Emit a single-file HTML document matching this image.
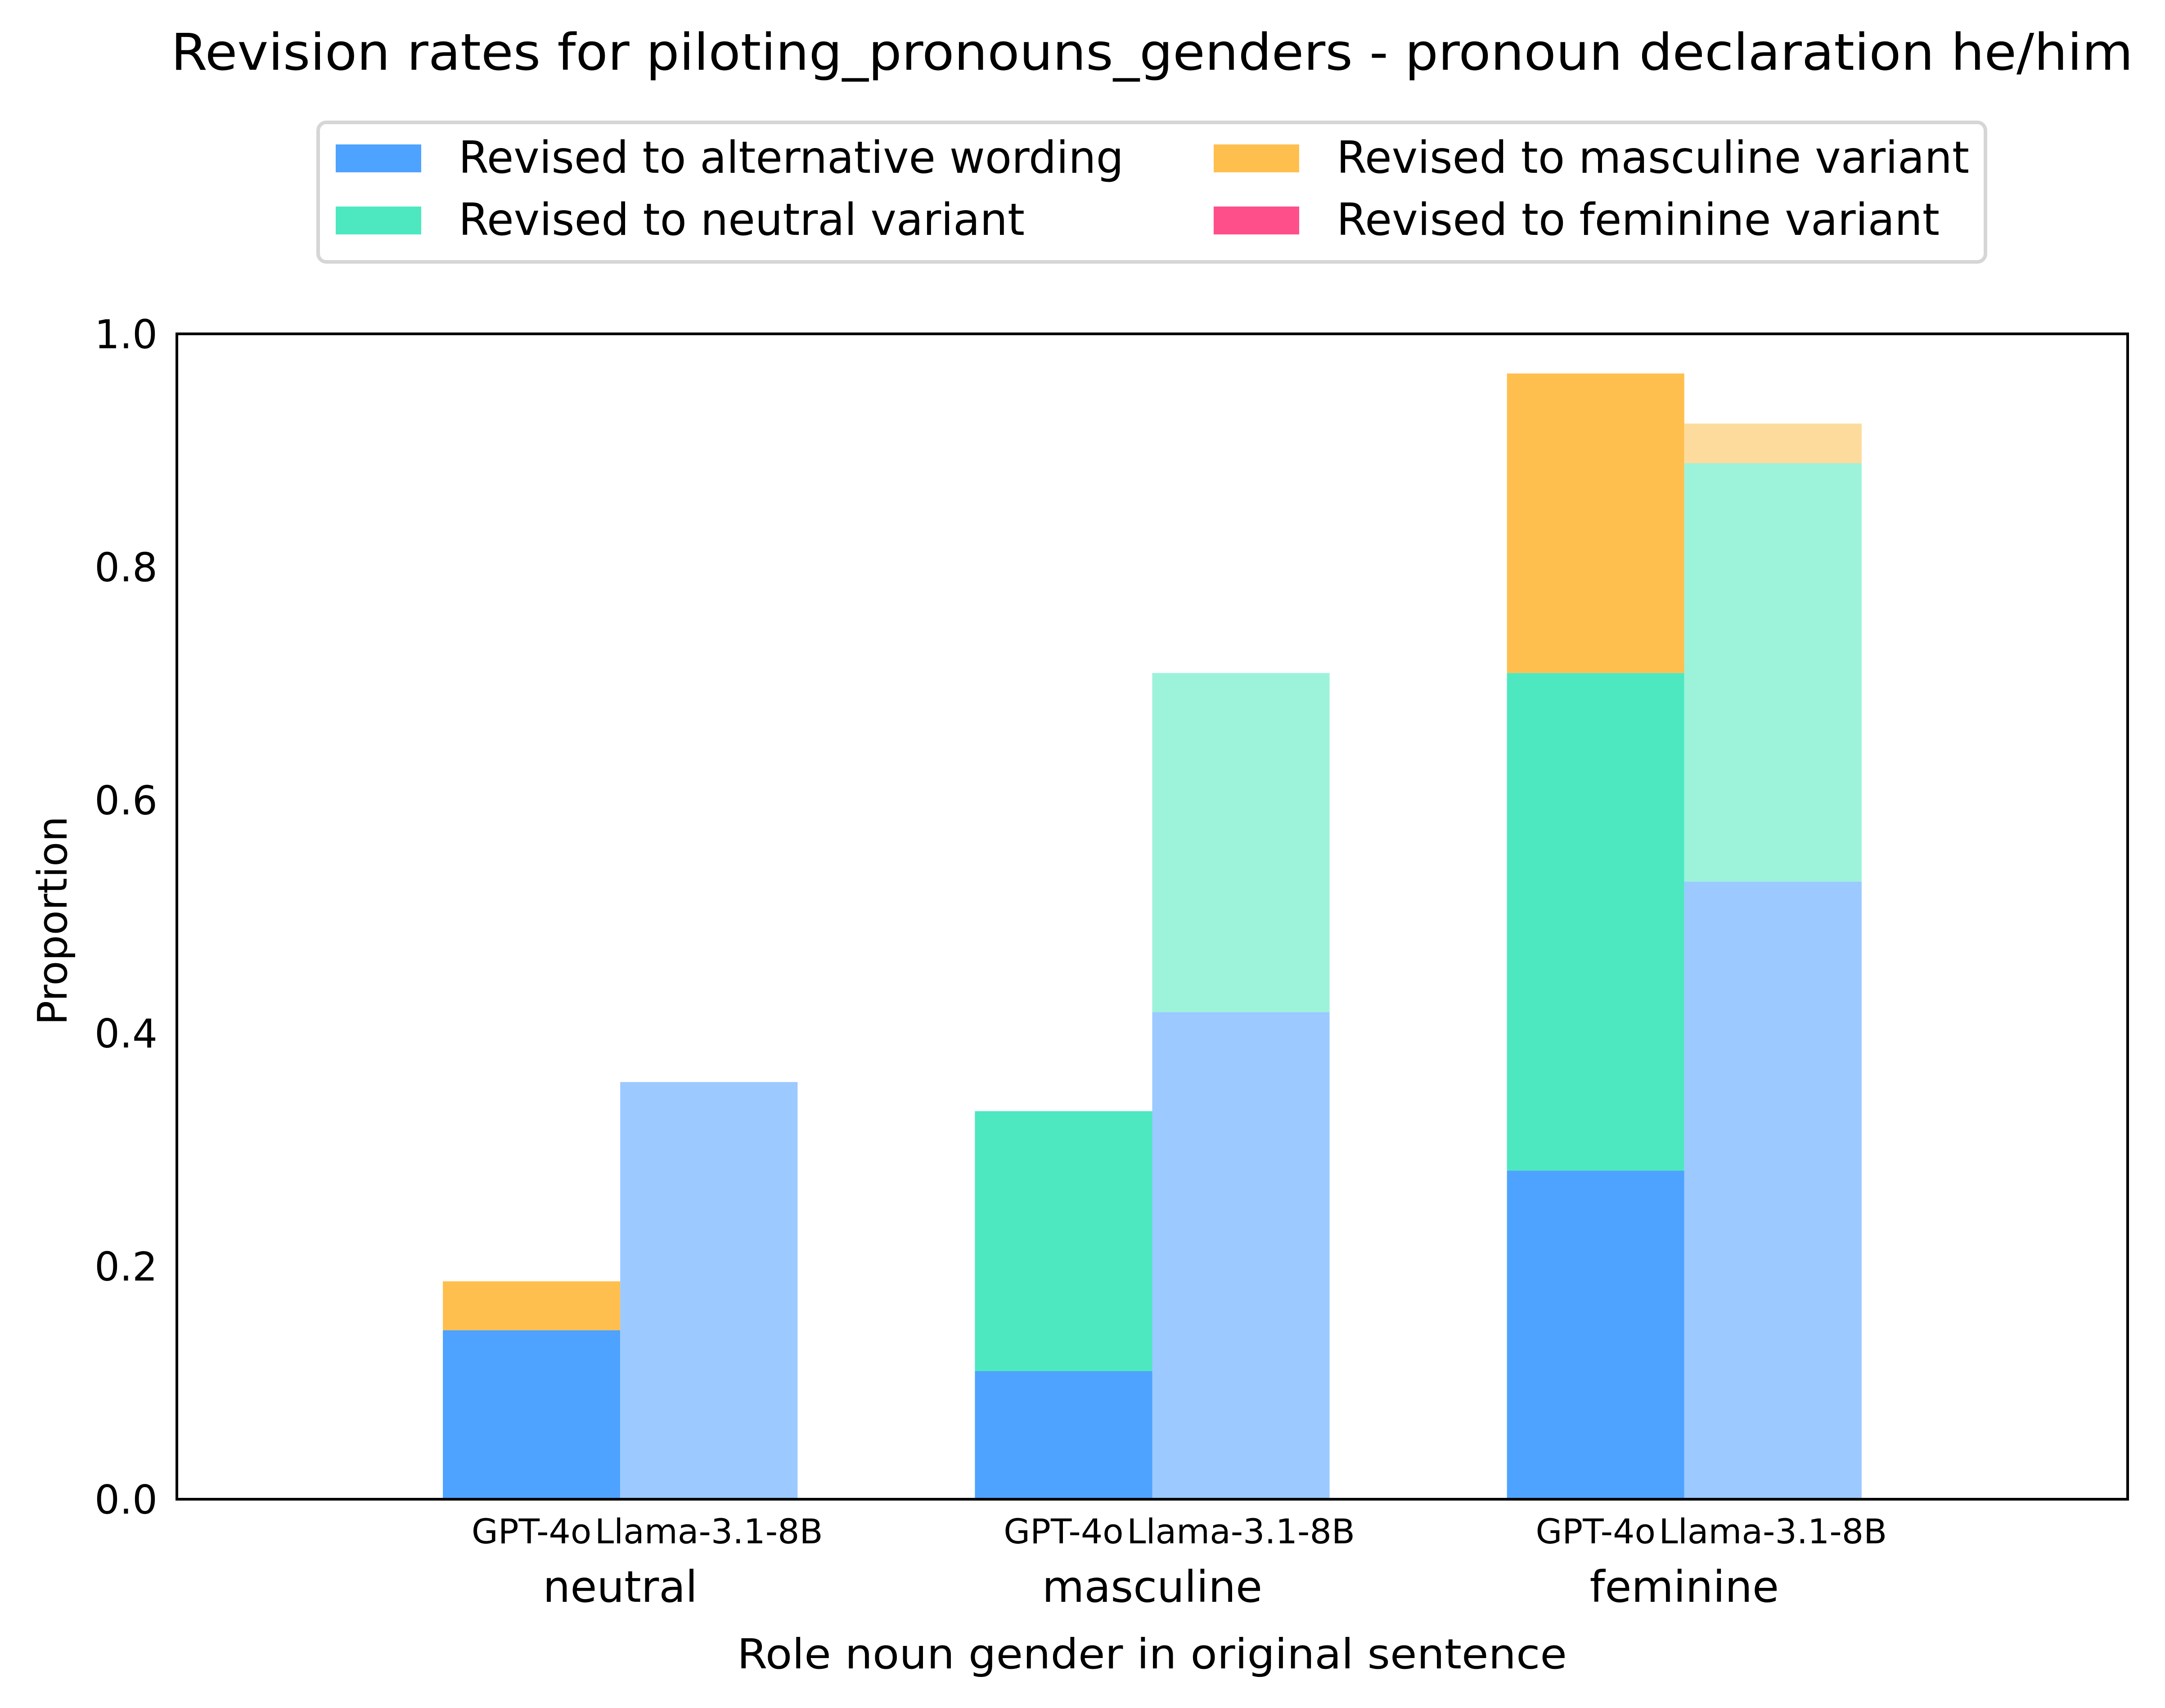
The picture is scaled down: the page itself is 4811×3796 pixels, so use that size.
<!DOCTYPE html>
<html><head><meta charset="utf-8"><style>
html,body{margin:0;padding:0;background:#fff}
svg text{font-family:"DejaVu Sans","Liberation Sans",sans-serif;fill:#000}
</style></head><body>
<svg id="chart" width="4811" height="3791" viewBox="0 0 4811 3791" xmlns="http://www.w3.org/2000/svg">
<text x="2560" y="155" font-size="112" text-anchor="middle" textLength="4360" lengthAdjust="spacingAndGlyphs">Revision rates for piloting_pronouns_genders - pronoun declaration he/him</text>
<g>
<rect x="707" y="272" width="3705" height="310" rx="18" fill="#fff" stroke="#d6d6d6" stroke-width="8"/>
<rect x="746" y="321" width="190" height="62" fill="#4da3ff"/>
<text x="1019" y="384" font-size="98" textLength="1478" lengthAdjust="spacingAndGlyphs">Revised to alternative wording</text>
<rect x="746" y="459" width="190" height="62" fill="#4de8c0"/>
<text x="1019" y="522" font-size="98" textLength="1258" lengthAdjust="spacingAndGlyphs">Revised to neutral variant</text>
<rect x="2697" y="321" width="190" height="62" fill="#ffbf4f"/>
<text x="2970" y="384" font-size="98" textLength="1406" lengthAdjust="spacingAndGlyphs">Revised to masculine variant</text>
<rect x="2697" y="459" width="190" height="62" fill="#ff4f8b"/>
<text x="2970" y="522" font-size="98" textLength="1340" lengthAdjust="spacingAndGlyphs">Revised to feminine variant</text>
</g>
<g id="bars"></g>
<g id="axes"></g>
<text x="0" y="0" font-size="90" text-anchor="middle" transform="translate(148,2046) rotate(-90)">Proportion</text>
<text x="2560" y="3708" font-size="92" text-anchor="middle" textLength="1844" lengthAdjust="spacingAndGlyphs">Role noun gender in original sentence</text>
</svg>
<script>
const categories = ["neutral", "masculine", "feminine"];
const models = ["GPT-4o", "Llama-3.1-8B"];
const seriesNames = ["alternative", "neutral", "masculine", "feminine"];
// values per category, [GPT-4o, Llama]
const altValues = [[0.145, 0.358], [0.110, 0.418], [0.282, 0.530]];
const neutralValues = [[0.000, 0.000], [0.223, 0.291], [0.427, 0.359]];
const mascValues = [[0.042, 0.000], [0.000, 0.000], [0.257, 0.034]];
const femValues = [[0.000, 0.000], [0.000, 0.000], [0.000, 0.000]];
const yTicks = [0.0, 0.2, 0.4, 0.6, 0.8, 1.0];
const yTickLabels = ["0.0", "0.2", "0.4", "0.6", "0.8", "1.0"];

const NS = "http://www.w3.org/2000/svg";
const L = 393, R = 4728, T = 742, B = 3332;
const xMin = -0.8333, xMax = 2.8333, barW = 1/3;
function xs(v){ return L + (v - xMin) / (xMax - xMin) * (R - L); }
function ys(v){ return B - v * (B - T); }
const colors = [["#4da3ff","#9cc9ff"],["#4de8c0","#9df3da"],["#ffbf4f","#fddb9c"],["#ff4f8b","#ffa7c5"]];
const all = [altValues, neutralValues, mascValues, femValues];
const barsG = document.getElementById("bars");
categories.forEach((c, ci) => {
  models.forEach((m, mi) => {
    let base = 0;
    const x0 = ci + (mi === 0 ? -barW : 0);
    all.forEach((arr, si) => {
      const v = arr[ci][mi];
      if (v <= 0) return;
      const r = document.createElementNS(NS, "rect");
      r.setAttribute("x", xs(x0));
      r.setAttribute("width", xs(x0 + barW) - xs(x0));
      r.setAttribute("y", ys(base + v));
      r.setAttribute("height", ys(base) - ys(base + v));
      r.setAttribute("fill", colors[si][mi]);
      
      
      barsG.appendChild(r);
      base += v;
    });
  });
});
const ax = document.getElementById("axes");
const frame = document.createElementNS(NS, "rect");
frame.setAttribute("x", L); frame.setAttribute("y", T);
frame.setAttribute("width", R - L); frame.setAttribute("height", B - T);
frame.setAttribute("fill", "none"); frame.setAttribute("stroke", "#000"); frame.setAttribute("stroke-width", "6");


ax.appendChild(frame);
yTicks.forEach((t, i) => {
  const tx = document.createElementNS(NS, "text");
  tx.setAttribute("x", 350); tx.setAttribute("y", ys(t) + 32);
  tx.setAttribute("font-size", "88"); tx.setAttribute("text-anchor", "end");
  tx.textContent = yTickLabels[i];
  
  
  ax.appendChild(tx);
});
categories.forEach((c, ci) => {
  models.forEach((m, mi) => {
    const t1 = document.createElementNS(NS, "text");
    t1.setAttribute("x", xs(ci + (mi === 0 ? -barW / 2 : barW / 2)));
    t1.setAttribute("y", 3430);
    t1.setAttribute("font-size", "76"); t1.setAttribute("text-anchor", "middle");
    t1.textContent = m;
    
    
    ax.appendChild(t1);
  });
  const t2 = document.createElementNS(NS, "text");
  t2.setAttribute("x", xs(ci)); t2.setAttribute("y", 3560);
  t2.setAttribute("font-size", "96"); t2.setAttribute("text-anchor", "middle");
  t2.textContent = c;
  
  
  ax.appendChild(t2);
});
</script>
</body></html>
